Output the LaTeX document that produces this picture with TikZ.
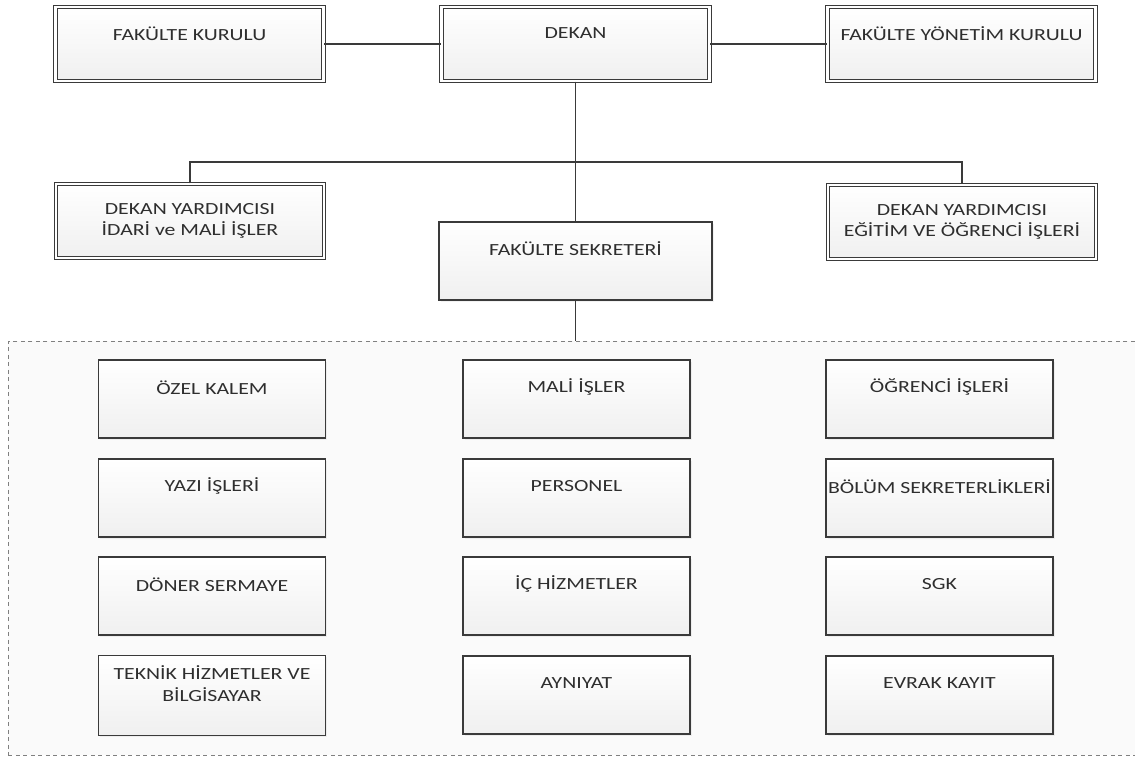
\documentclass[tikz,border=0pt]{standalone}
\usepackage{fontspec}
\setmainfont{Carlito}[FakeStretch=1.28]
\usetikzlibrary{calc,shadows}
\definecolor{linec}{HTML}{3A3A3A}
\definecolor{txtc}{HTML}{2E2E2E}
\begin{document}
\begin{tikzpicture}[x=1pt,y=-1pt,
  boxbase/.style={rectangle, inner sep=0pt, top color=white, bottom color=black!6,
     drop shadow={opacity=0.1, shadow xshift=1.5pt, shadow yshift=-1.5pt}},
  dbox/.style={boxbase, draw=linec, line width=1.1pt, double=white, double distance=2.2pt,
     minimum width=268pt, minimum height=74pt},
  sbox/.style={boxbase, draw=linec, line width=1.3pt, minimum width=273pt, minimum height=78pt},
  gbox/.style={boxbase, draw=linec, line width=1.3pt, minimum width=227pt, minimum height=78pt},
  txt/.style={text=txtc, align=center, inner sep=0pt, font=\fontsize{17}{21.5}\selectfont},
  conn/.style={draw=linec, line width=1.3pt},
  group/.style={draw=black!50, dash pattern=on 4pt off 3.5pt, line width=0.9pt, fill=black!2,
     inner sep=0pt, anchor=north west, minimum width=1140pt, minimum height=414pt}
]
\useasboundingbox (0,0) rectangle (1135,760);
\fill[white] (0,0) rectangle (1135,760);

% dashed group
\node[group] (grp) at (8,341) {};

% top row
\node[dbox] (fk) at (189.5,44) {};
\node[dbox] (dekan) at (575.5,44) {};
\node[dbox] (fyk) at (961.5,44) {};
\node[txt] (tfk) at ($(fk.north)+(0,27)$) {FAKÜLTE KURULU};
\node[txt] (tdekan) at ($(dekan.north)+(0,27)$) {DEKAN};
\node[txt] (tfyk) at ($(fyk.north)+(0,27)$) {FAKÜLTE YÖNETİM KURULU};

% second level
\node[dbox] (dy1) at (190,221) {};
\node[dbox] (dy2) at (962,222) {};
\node[txt] (tdy1) at (dy1.center) {DEKAN YARDIMCISI\\İDARİ ve MALİ İŞLER};
\node[txt] (tdy2) at (dy2.center) {DEKAN YARDIMCISI\\EĞİTİM VE ÖĞRENCİ İŞLERİ};
\node[sbox] (fs) at (575.5,261) {};
\node[txt] (tfs) at ($(fs.north)+(0,27)$) {FAKÜLTE SEKRETERİ};

% connectors
\coordinate (hub) at (575.5,162);
\draw[conn] (fk.east) -- (dekan.west);
\draw[conn] (dekan.east) -- (fyk.west);
\draw[conn] (dekan.south) -- (fs.north);
\draw[conn] (dy1.north) |- (hub) -| (dy2.north);
\draw[conn] (fs.south) -- (fs.south |- grp.north);

% grid
\foreach \name/\cx/\cy/\lab in {
  a1/212/399/ÖZEL KALEM, a2/212/498/YAZI İŞLERİ, a3/212/596/DÖNER SERMAYE,
  b1/576.5/399/MALİ İŞLER, b2/576.5/498/PERSONEL, b3/576.5/596/İÇ HİZMETLER, b4/576.5/695/AYNIYAT,
  c1/939.5/399/ÖĞRENCİ İŞLERİ, c2/939.5/498/BÖLÜM SEKRETERLİKLERİ, c3/939.5/596/SGK, c4/939.5/695/EVRAK KAYIT}{
  \node[gbox] (\name) at (\cx,\cy) {};
  \node[txt] (t\name) at ($(\name.north)+(0,28)$) {\lab};
}
\node[gbox, minimum height=80pt] (a4) at (212,695.5) {};
\node[txt] (ta4) at ($(a4.north)+(0,29)$) {TEKNİK HİZMETLER VE\\BİLGİSAYAR};
\end{tikzpicture}
\end{document}
